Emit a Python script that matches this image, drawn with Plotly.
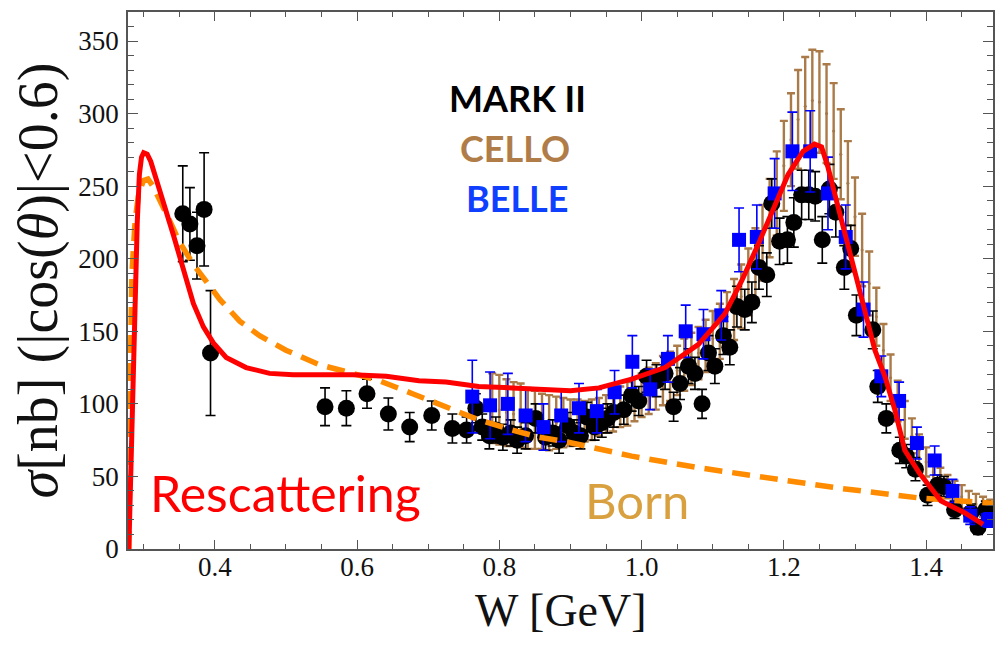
import plotly.graph_objects as go

# ---------------- data ----------------
# MARK II  (W in GeV, sigma in nb, symmetric error)
mk_w = [0.355, 0.365, 0.375, 0.385, 0.394,
        0.555, 0.585, 0.614, 0.644, 0.674, 0.705, 0.734, 0.754,
        0.767, 0.776, 0.786, 0.795, 0.805, 0.816, 0.825, 0.837, 0.851, 0.865,
        0.875, 0.884, 0.896, 0.905, 0.914, 0.923, 0.934, 0.944, 0.952, 0.961,
        0.975, 0.986, 0.996, 1.007, 1.021, 1.033, 1.045, 1.054, 1.066, 1.075,
        1.085, 1.094, 1.103, 1.115, 1.124, 1.134, 1.145, 1.155, 1.165, 1.176,
        1.183, 1.194, 1.205, 1.214, 1.225, 1.235, 1.244, 1.254, 1.264, 1.273,
        1.285, 1.294, 1.302, 1.325, 1.332, 1.344, 1.363, 1.372, 1.385, 1.402,
        1.416, 1.425, 1.440, 1.463, 1.473, 1.484]
mk_s = [231, 224, 209, 234, 135,
        98, 97, 107, 93, 84, 92, 83, 82,
        97, 84, 78, 82, 77, 80, 75, 78, 90, 77,
        80, 75, 85, 80, 78, 91, 84, 87, 90, 94,
        96, 106, 102, 119, 116, 121, 98, 114, 126, 121,
        100, 135, 126, 147, 139, 167, 165, 170, 194, 189,
        238, 212, 213, 225, 244, 244, 243, 213, 248, 232,
        194, 207, 161, 151, 112, 90, 68, 64, 55, 37,
        44, 43, 27, 25, 15, 27]
mk_e = [33, 25, 23, 39, 43,
        13, 12, 10, 11, 10, 10, 10, 9,
        10, 9, 9, 9, 9, 9, 9, 9, 10, 9,
        9, 9, 9, 9, 9, 10, 9, 10, 10, 10,
        10, 11, 10, 11, 11, 11, 10, 11, 12, 11,
        10, 12, 12, 13, 12, 14, 14, 14, 15, 15,
        17, 16, 16, 17, 17, 17, 17, 16, 17, 17,
        15, 16, 14, 13, 11, 10, 9, 8, 8, 7,
        7, 7, 6, 6, 5, 6]

# CELLO
ce_w = [0.79, 0.80, 0.81, 0.82, 0.83, 0.84, 0.85, 0.86, 0.87, 0.88, 0.89,
        0.90, 0.91, 0.92, 0.93, 0.94, 0.95, 0.96, 0.97, 0.98, 0.99,
        1.00, 1.01, 1.02, 1.03, 1.04, 1.05, 1.06, 1.07, 1.08, 1.09,
        1.10, 1.11, 1.12, 1.13, 1.14, 1.15, 1.16, 1.17, 1.18, 1.19,
        1.20, 1.21, 1.22, 1.23, 1.24, 1.25, 1.26, 1.27, 1.28, 1.29,
        1.30, 1.31, 1.32, 1.33, 1.34, 1.35, 1.36, 1.37, 1.38, 1.39,
        1.40, 1.41, 1.42, 1.43, 1.44, 1.45, 1.46, 1.47, 1.48, 1.49]
ce_s = [97, 96, 94, 93, 92, 90, 89, 88, 87, 87, 87,
        87, 88, 88, 89, 91, 93, 95, 98, 100, 103,
        106, 109, 112, 116, 119, 123, 127, 131, 135, 140,
        145, 150, 157, 165, 174, 184, 197, 211, 228, 245,
        264, 282, 296, 305, 309, 308, 300, 288, 272, 252,
        229, 206, 183, 160, 137, 118, 102, 89, 78, 68,
        60, 53, 47, 43, 39, 36, 33, 31, 29, 27]
ce_e = [24, 24, 23, 22, 22, 21, 20, 19, 19, 18, 17,
        16, 15, 14, 14, 13, 13, 14, 14, 15, 15,
        15, 16, 16, 17, 17, 17, 18, 18, 18, 18,
        19, 19, 20, 21, 22, 23, 24, 26, 27, 29,
        31, 32, 34, 34, 35, 35, 34, 33, 31, 29,
        27, 25, 22, 20, 18, 16, 14, 13, 12, 11,
        10, 9, 9, 8, 8, 8, 7, 7, 7, 7]

# BELLE
be_w = [0.762, 0.787, 0.812, 0.837, 0.862, 0.887, 0.912, 0.937, 0.962, 0.987,
        1.012, 1.037, 1.062, 1.087, 1.112, 1.137, 1.162, 1.187, 1.212, 1.237,
        1.262, 1.287, 1.312, 1.337, 1.362, 1.387, 1.412, 1.437, 1.462, 1.487]
be_s = [105, 99, 100, 92, 84, 92, 97, 95, 108, 129,
        110, 131, 150, 148, 161, 213, 215, 245, 274, 274,
        245, 215, 165, 119, 102, 73, 61, 40, 23, 20]
be_e = [25, 23, 21, 18, 16, 18, 17, 15, 15, 18,
        14, 16, 18, 17, 17, 22, 22, 24, 27, 28,
        25, 22, 19, 14, 13, 11, 10, 8, 6, 5]

# model curves
resc_w = [0.2792, 0.283, 0.287, 0.291, 0.294, 0.297, 0.300, 0.305, 0.310, 0.318,
          0.327, 0.342, 0.356, 0.370, 0.384, 0.398, 0.416, 0.444, 0.477, 0.510,
          0.547, 0.594, 0.641, 0.687, 0.725, 0.771, 0.818, 0.856, 0.900, 0.940,
          0.986, 1.033, 1.080, 1.117, 1.141, 1.164, 1.183, 1.206, 1.227, 1.243,
          1.253, 1.262, 1.276, 1.290, 1.304, 1.316, 1.328, 1.342, 1.356, 1.370,
          1.391, 1.421, 1.454, 1.480]
resc_s = [0, 80, 160, 225, 258, 270, 273, 272, 267, 255,
          240, 216, 191, 169, 153, 142, 132, 125, 121, 120,
          120, 120, 119, 116, 115, 112, 111, 110, 109, 111,
          117, 125, 141, 162, 185, 210, 231, 258, 274, 279,
          277, 263, 236, 208, 183, 160, 137, 119, 96, 68,
          52, 33, 25, 17]

born_w = [0.2792, 0.2800, 0.2815, 0.2835, 0.288, 0.293, 0.300, 0.306, 0.313, 0.332,
          0.351, 0.370, 0.388, 0.407, 0.435, 0.463, 0.500, 0.547, 0.594, 0.631,
          0.678, 0.725, 0.771, 0.818, 0.856, 0.893, 0.986, 1.080, 1.164, 1.276,
          1.393, 1.494]
born_s = [0, 70, 130, 190, 226, 245, 254, 255, 250, 231,
          211, 196, 184, 172, 157, 147, 137, 127, 121, 116,
          107, 98, 89, 82, 77, 74, 64, 56, 50, 42,
          35, 31.5]

# ---------------- figure ----------------
fig = go.Figure()

fig.add_trace(go.Scatter(
    x=ce_w, y=ce_s, mode="markers",
    marker=dict(size=3, color="#A57646"),
    error_y=dict(type="data", array=ce_e, color="rgba(163,112,58,0.92)",
                 thickness=2.4, width=4),
    name="CELLO"))

fig.add_trace(go.Scatter(
    x=mk_w, y=mk_s, mode="markers",
    marker=dict(size=17, color="black", symbol="circle"),
    error_y=dict(type="data", array=mk_e, color="black", thickness=1.6, width=5),
    name="MARK II"))

fig.add_trace(go.Scatter(
    x=be_w, y=be_s, mode="markers",
    marker=dict(size=14, color="#0000FF", symbol="square"),
    error_y=dict(type="data", array=be_e, color="#0000FF", thickness=1.6, width=5),
    name="BELLE"))

fig.add_trace(go.Scatter(
    x=born_w, y=born_s, mode="lines",
    line=dict(color="#FF8C00", width=5.5, dash="18px,10px"),
    name="Born"))

fig.add_trace(go.Scatter(
    x=resc_w, y=resc_s, mode="lines",
    line=dict(color="#FF0000", width=5),
    name="Rescattering"))

axis_col = "#555555"
tick_font = dict(family="Liberation Serif", size=27, color="#111111")

fig.update_xaxes(
    range=[0.278, 1.494], tick0=0.4, dtick=0.2, tickformat=".1f",
    ticks="inside", ticklen=9, tickwidth=1.3, tickcolor=axis_col,
    minor=dict(dtick=0.05, ticks="inside", ticklen=5, tickcolor=axis_col, tickwidth=1.1),
    showline=True, linecolor=axis_col, linewidth=1.5, mirror="allticks",
    showgrid=False, zeroline=False, tickfont=tick_font, ticklabelstandoff=-7)

fig.update_yaxes(
    range=[0, 370], tick0=0, dtick=50,
    ticks="inside", ticklen=10, tickwidth=1.3, tickcolor=axis_col,
    minor=dict(dtick=10, ticks="inside", ticklen=6, tickcolor=axis_col, tickwidth=1.1),
    showline=True, linecolor=axis_col, linewidth=1.5, mirror="allticks",
    showgrid=False, zeroline=False, tickfont=tick_font, ticklabelstandoff=2)

ann = [
    dict(x=0.826, y=311, text="<b>MARK II</b>", font=dict(family="Lato", size=36, color="black")),
    dict(x=0.822, y=276, text="<b>CELLO</b>", font=dict(family="Lato", size=36, color="#B07D48")),
    dict(x=0.826, y=242, text="<b>BELLE</b>", font=dict(family="Lato", size=36, color="#1040FF")),
    dict(x=0.4995, y=38.6, text="Rescattering", font=dict(family="Lato", size=50, color="#FF0000")),
    dict(x=0.994, y=33.7, text="Born", font=dict(family="Lato", size=49, color="#D9A040")),
]
for a in ann:
    a.update(xref="x", yref="y", showarrow=False, xanchor="center", yanchor="middle")

# axis titles
ann.append(dict(xref="paper", yref="paper", x=-0.103, y=0.5, textangle=-90,
                text="<i>σ</i>[nb] (|cos(<i>θ</i>)|&lt;0.6)", showarrow=False,
                xanchor="center", yanchor="middle",
                font=dict(family="Liberation Serif", size=56, color="#111111")))
ann.append(dict(xref="paper", yref="paper", x=0.5, y=-0.114,
                text="W [GeV]", showarrow=False, xanchor="center", yanchor="middle",
                font=dict(family="Liberation Serif", size=46, color="#111111")))

fig.update_layout(
    width=996, height=647,
    margin=dict(l=128, r=1, t=12, b=98),
    paper_bgcolor="white", plot_bgcolor="white",
    showlegend=False, annotations=ann)

fig.write_html("out.html")
